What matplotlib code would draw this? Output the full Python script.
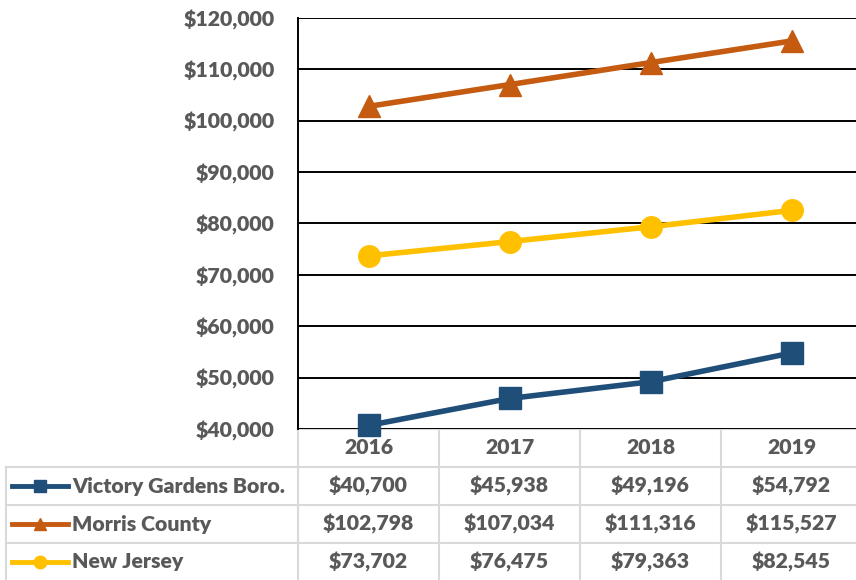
import matplotlib.pyplot as plt
from matplotlib.transforms import blended_transform_factory
from matplotlib.lines import Line2D

years = ["2016", "2017", "2018", "2019"]
victory = [40700, 45938, 49196, 54792]
morris = [102798, 107034, 111316, 115527]
nj = [73702, 76475, 79363, 82545]
names = ["Victory Gardens Boro.", "Morris County", "New Jersey"]
colors = ["#1F4E79", "#C55A11", "#FFC000"]
markers = ["s", "^", "o"]
series = [victory, morris, nj]

W, H = 856, 580
txt = "#595959"
grid_gray = "#D9D9D9"
fs = 15.3
fw = 'heavy'
plt.rcParams['font.family'] = ['Lato', 'DejaVu Sans']

fig = plt.figure(figsize=(W / 100, H / 100), dpi=100)

# main plot area (extends slightly past the right edge, like the original)
ax = fig.add_axes([298 / W, (H - 429) / H, (862 - 298) / W, (429 - 18) / H])
x = list(range(len(years)))
for vals, c, m in zip(series, colors, markers):
    ax.plot(x, vals, color=c, lw=4, marker=m, ms=15.5, zorder=3, clip_on=False)

ax.set_xlim(-0.5, 3.5)
ax.set_ylim(40000, 120000)
ax.set_yticks(range(40000, 120001, 10000))
ax.set_yticklabels([f"${v:,}" for v in range(40000, 120001, 10000)],
                   fontsize=fs, fontweight=fw, color=txt)
ax.tick_params(axis='y', length=0, pad=17)
ax.set_xticks([])
ax.grid(axis='y', color='black', lw=1.4)
for s in ['top', 'right', 'bottom']:
    ax.spines[s].set_visible(False)
ax.spines['left'].set_color('black')
ax.spines['left'].set_linewidth(1.4)
ax.set_axisbelow(True)

# data table below the plot, in pixel coordinates
tab = fig.add_axes([0, 0, 1, 1], zorder=-1)
tab.set_xlim(0, W)
tab.set_ylim(H, 0)
tab.axis('off')
tr = blended_transform_factory(ax.transData, tab.transData)

row_edges = [429, 467, 505, 543, 580]
col_edges = [298, 439, 580, 721, 862]
# horizontal borders
tab.plot([298, W], [429, 429], color=grid_gray, lw=1.5)
for yb in row_edges[1:4]:
    tab.plot([6, W], [yb, yb], color=grid_gray, lw=1.5)
# vertical borders
for xb in col_edges:
    tab.plot([xb, xb], [429, 580], color=grid_gray, lw=1.5)
tab.plot([6, 6], [467, 580], color=grid_gray, lw=1.5)

# header
for i, yr in enumerate(years):
    tab.text(i, 448, yr, transform=tr, ha='center', va='center',
             fontsize=fs, fontweight=fw, color=txt)

# rows
for r, (name, vals, c, m) in enumerate(zip(names, series, colors, markers)):
    yc = (row_edges[r + 1] + row_edges[r + 2]) / 2
    tab.add_line(Line2D([12, 68], [yc, yc], color=c, lw=3.5))
    tab.plot([40], [yc], marker=m, color=c, ms=9)
    tab.text(72, yc, name, ha='left', va='center', fontsize=fs,
             fontweight=fw, color=txt)
    for i, v in enumerate(vals):
        tab.text(i, yc, f"${v:,}", transform=tr, ha='center', va='center',
                 fontsize=fs, fontweight=fw, color=txt)

fig.savefig("out.png", dpi=100)
